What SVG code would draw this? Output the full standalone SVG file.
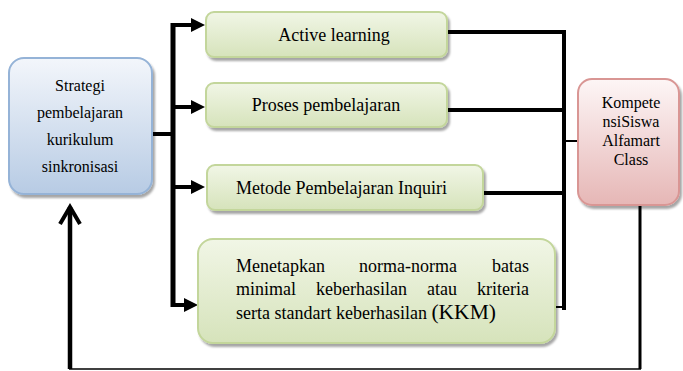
<svg xmlns="http://www.w3.org/2000/svg" width="683" height="371" viewBox="0 0 683 371">
<style>
.t{font-family:"Liberation Serif","Times New Roman",serif;fill:#000}
.c{fill:none;stroke:#000;stroke-linecap:butt;stroke-linejoin:miter}
.g{fill:url(#gg);stroke:#c3d69b;stroke-width:2;filter:url(#sh)}
</style>
<defs>
<linearGradient id="gb" x1="0" y1="0" x2="0" y2="1"><stop offset="0" stop-color="#f3f6fb"/><stop offset="1" stop-color="#b7cbe4"/></linearGradient>
<linearGradient id="gg" x1="0" y1="0" x2="0" y2="1"><stop offset="0" stop-color="#f1f6e6"/><stop offset="1" stop-color="#d6e3bb"/></linearGradient>
<linearGradient id="gr" x1="0" y1="0" x2="0" y2="1"><stop offset="0" stop-color="#fdf6f6"/><stop offset="1" stop-color="#e6b7b6"/></linearGradient>
<filter id="sh" x="-10%" y="-10%" width="130%" height="140%"><feDropShadow dx="2" dy="3" stdDeviation="1" flood-color="#000" flood-opacity="0.35"/></filter>
<marker id="ah" markerUnits="userSpaceOnUse" viewBox="0 0 14 14" markerWidth="14" markerHeight="14" refX="0" refY="7" orient="auto"><path d="M0,0 L14,7 L0,14 z" fill="#000"/></marker>
<marker id="oh" markerUnits="userSpaceOnUse" viewBox="0 0 24 24" markerWidth="24" markerHeight="24" refX="19" refY="12" orient="auto" overflow="visible"><path d="M2,2 L19,12 L2,22" fill="none" stroke="#000" stroke-width="4"/></marker>
</defs>
<g id="connectors">
<path class="c" d="M152,134 H175" stroke-width="4"/>
<path class="c" d="M173,23 V307" stroke-width="5"/>
<path class="c" d="M171,25 H191" stroke-width="4" marker-end="url(#ah)"/>
<path class="c" d="M171,107 H191" stroke-width="4" marker-end="url(#ah)"/>
<path class="c" d="M171,187 H191" stroke-width="4" marker-end="url(#ah)"/>
<path class="c" d="M171,305 H184" stroke-width="4" marker-end="url(#ah)"/>
<path class="c" d="M447,32 H566" stroke-width="4"/>
<path class="c" d="M448,110 H566" stroke-width="4"/>
<path class="c" d="M483,193 H566" stroke-width="4"/>
<path class="c" d="M555,307 H566" stroke-width="2"/>
<path class="c" d="M564,30 V310" stroke-width="4"/>
<path class="c" d="M564,141 H578" stroke-width="2"/>
<path class="c" d="M640,205 V369" stroke-width="3"/>
<path class="c" d="M641,369 H69" stroke-width="1.5"/>
<path class="c" d="M70,369 V207" stroke-width="4.5" marker-end="url(#oh)"/>
</g>
<g id="strategi">
<rect x="9" y="58" width="143" height="136" rx="15" fill="url(#gb)" stroke="#95b3d7" stroke-width="2" filter="url(#sh)"/>
<text class="t" font-size="16" text-anchor="middle"><tspan x="80" y="91">Strategi</tspan><tspan x="80" y="118">pembelajaran</tspan><tspan x="80" y="145">kurikulum</tspan><tspan x="80" y="172">sinkronisasi</tspan></text>
</g>
<g id="active">
<rect class="g" x="206" y="12" width="241" height="45" rx="8"/>
<text class="t" font-size="18" x="334" y="41" text-anchor="middle">Active learning</text>
</g>
<g id="proses">
<rect class="g" x="206" y="83" width="241" height="44" rx="8"/>
<text class="t" font-size="18" x="326" y="111" text-anchor="middle">Proses pembelajaran</text>
</g>
<g id="metode">
<rect class="g" x="207" y="165" width="276" height="45" rx="8"/>
<text class="t" font-size="18" x="236" y="194">Metode Pembelajaran Inquiri</text>
</g>
<g id="kkm">
<rect class="g" x="198" y="239" width="357" height="104" rx="15"/>
<text class="t" font-size="18"><tspan x="236" y="272">Menetapkan</tspan><tspan x="359" y="272">norma-norma</tspan><tspan x="529" y="272" text-anchor="end">batas</tspan></text>
<text class="t" font-size="18"><tspan x="236" y="295">minimal</tspan><tspan x="316" y="295">keberhasilan</tspan><tspan x="427" y="295">atau</tspan><tspan x="529" y="295" text-anchor="end">kriteria</tspan></text>
<text class="t" font-size="18" x="236" y="319">serta standart keberhasilan <tspan font-size="21.5">(KKM)</tspan></text>
</g>
<g id="kompetensi">
<rect x="578" y="79" width="101" height="126" rx="14" fill="url(#gr)" stroke="#d99694" stroke-width="2" filter="url(#sh)"/>
<text class="t" font-size="16" text-anchor="middle"><tspan x="631" y="108">Kompete</tspan><tspan x="631" y="127">nsiSiswa</tspan><tspan x="631" y="146">Alfamart</tspan><tspan x="631" y="165">Class</tspan></text>
</g>
</svg>
